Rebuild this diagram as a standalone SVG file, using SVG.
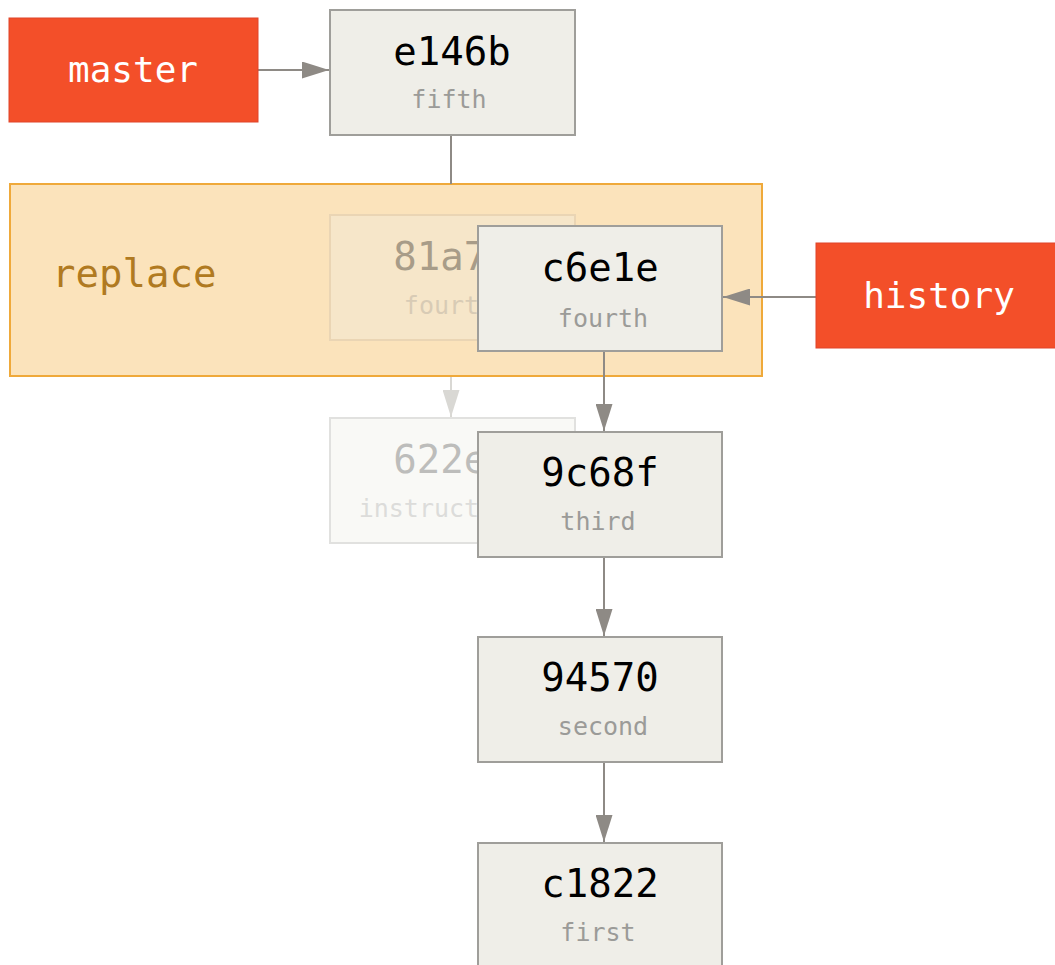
<svg xmlns="http://www.w3.org/2000/svg" width="1055" height="965" viewBox="0 0 1055 965">
<style>
.commit rect{fill:#efeee8;stroke:#9f9e9a;stroke-width:2}
.hash{font-family:"DejaVu Sans Mono","Liberation Mono",monospace;font-size:39px;fill:#000;text-anchor:middle}
.msg{font-family:"DejaVu Sans Mono","Liberation Mono",monospace;font-size:25px;fill:#9b9b98;text-anchor:middle}
.ref rect{fill:#f34f29;stroke:#e0452a;stroke-width:1}
.ref text{font-family:"DejaVu Sans Mono","Liberation Mono",monospace;font-size:36px;fill:#fff;text-anchor:middle}
.edge{stroke:#8e8a85;stroke-width:2;fill:none}
</style>
<defs>
<marker id="arr" viewBox="0 0 27 17" refX="27" refY="8.5" markerWidth="27" markerHeight="17" markerUnits="userSpaceOnUse" orient="auto">
<path d="M0,0 L27,8.5 L0,17 z" fill="#8e8a85"/>
</marker>
<marker id="arrG" viewBox="0 0 27 17" refX="27" refY="8.5" markerWidth="27" markerHeight="17" markerUnits="userSpaceOnUse" orient="auto">
<path d="M0,0 L27,8.5 L0,17 z" fill="#d9d8d4"/>
</marker>
</defs>

<g id="replace">
<rect x="10" y="184" width="752" height="192" fill="#fbe3bb" stroke="#efa93a" stroke-width="2"/>
<text x="52" y="287" font-family="DejaVu Sans Mono, Liberation Mono, monospace" font-size="39" fill="#b07a21">replace</text>
</g>

<g id="connectors">
<line class="edge" x1="258" y1="70" x2="329" y2="70" marker-end="url(#arr)"/>
<line class="edge" x1="451" y1="135" x2="451" y2="184"/>
<line x1="451" y1="377" x2="451" y2="417" stroke="#d9d8d4" stroke-width="2" marker-end="url(#arrG)"/>
<line class="edge" x1="816" y1="297" x2="723" y2="297" marker-end="url(#arr)"/>
<line class="edge" x1="604" y1="352" x2="604" y2="431" marker-end="url(#arr)"/>
<line class="edge" x1="604" y1="558" x2="604" y2="636" marker-end="url(#arr)"/>
<line class="edge" x1="604" y1="763" x2="604" y2="842" marker-end="url(#arr)"/>
</g>

<g id="master" class="ref">
<rect x="9" y="18" width="249" height="104"/>
<text x="133" y="82">master</text>
</g>

<g id="history" class="ref">
<rect x="816" y="243" width="240" height="105"/>
<text x="939" y="308">history</text>
</g>

<g id="e146b" class="commit">
<rect x="330" y="10" width="245" height="125"/>
<text class="hash" x="452" y="65">e146b</text>
<text class="msg" x="449" y="108">fifth</text>
</g>

<g id="c81a7">
<rect x="330" y="215" width="245" height="125" fill="#f6e6c9" stroke="#ead5b4" stroke-width="2"/>
<text class="hash" x="452" y="270" style="fill:#a89c88">81a7d</text>
<text class="msg" x="449" y="314" style="fill:#d8cbb5">fourth</text>
</g>

<g id="c622e">
<rect x="330" y="418" width="245" height="125" fill="#f9f9f6" stroke="#e1e1df" stroke-width="2"/>
<text class="hash" x="452" y="473" style="fill:#bdbdbb">622e8</text>
<text class="msg" x="449" y="517" style="fill:#dcdcda">instructions</text>
</g>

<g id="c6e1e" class="commit">
<rect x="478" y="226" width="244" height="125"/>
<text class="hash" x="600" y="281">c6e1e</text>
<text class="msg" x="603" y="327">fourth</text>
</g>

<g id="c9c68f" class="commit">
<rect x="478" y="432" width="244" height="125"/>
<text class="hash" x="600" y="486">9c68f</text>
<text class="msg" x="598" y="530">third</text>
</g>

<g id="c94570" class="commit">
<rect x="478" y="637" width="244" height="125"/>
<text class="hash" x="600" y="691">94570</text>
<text class="msg" x="603" y="735">second</text>
</g>

<g id="c1822" class="commit">
<rect x="478" y="843" width="244" height="130"/>
<text class="hash" x="600" y="897">c1822</text>
<text class="msg" x="598" y="941">first</text>
</g>
</svg>
